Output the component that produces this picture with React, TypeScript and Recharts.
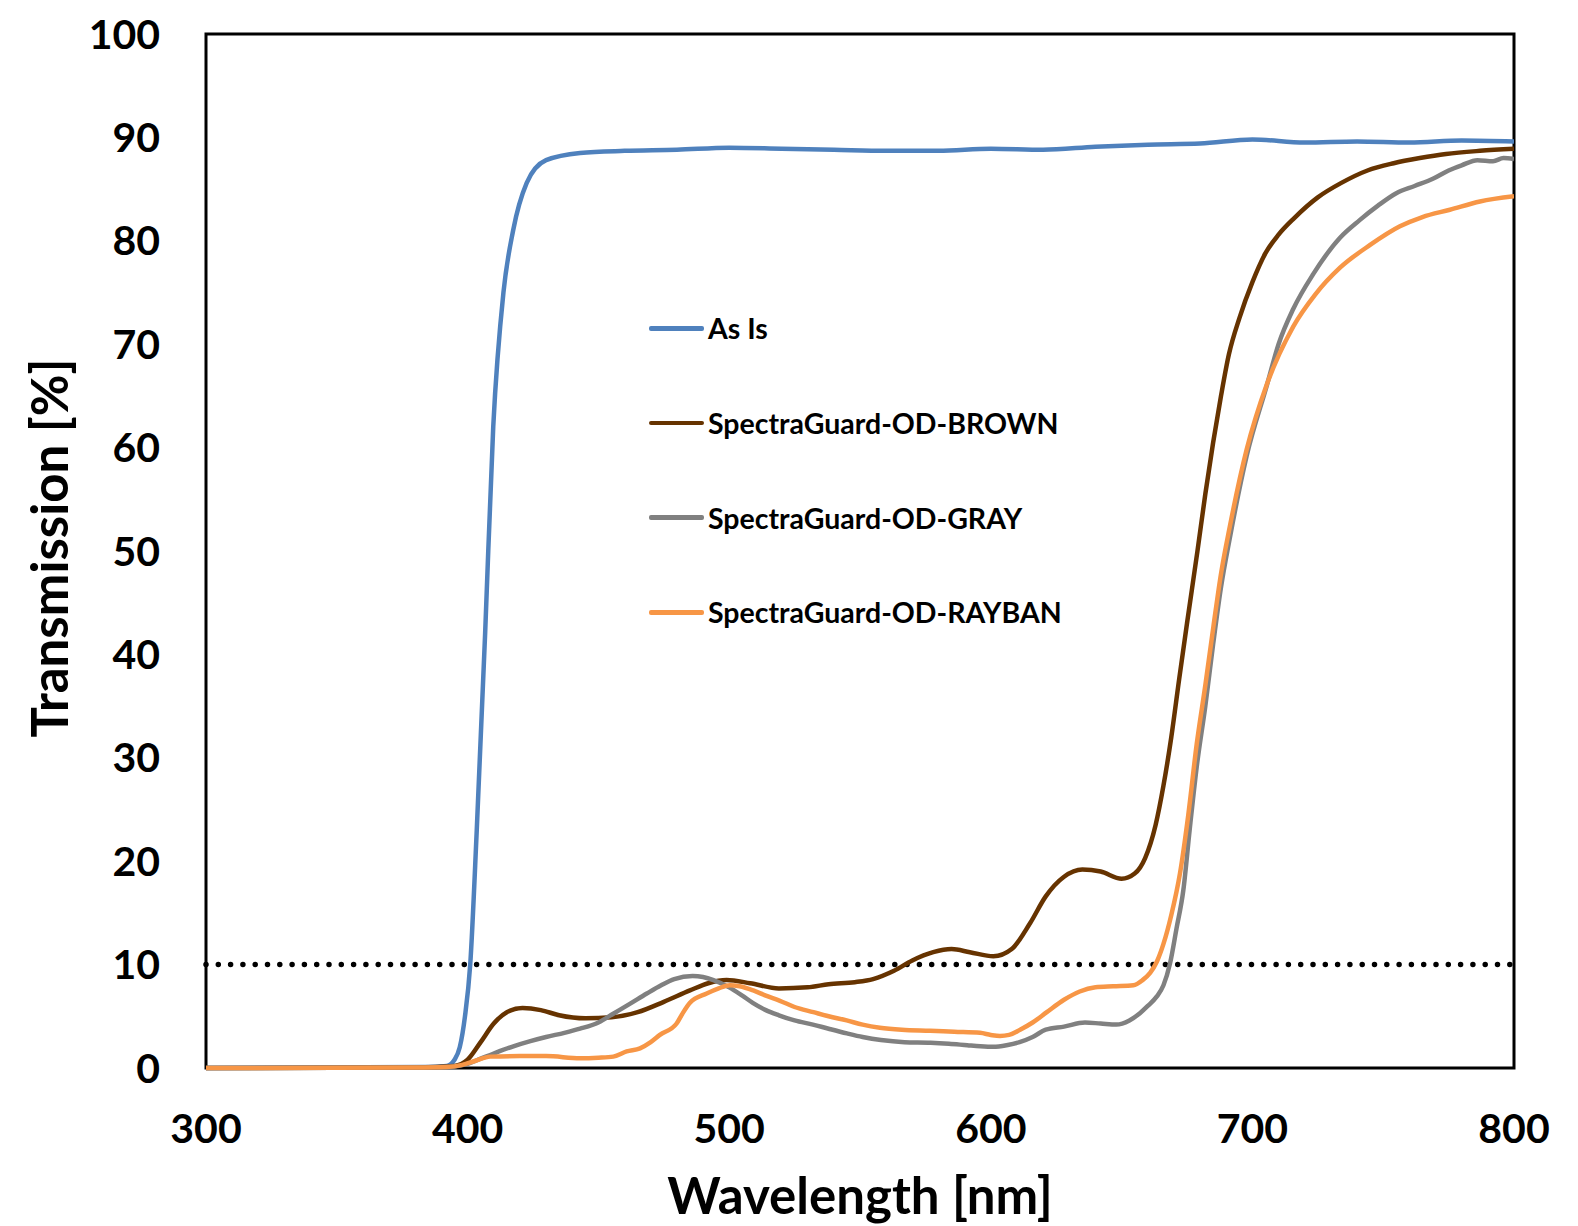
import {
  Legend,
  Line,
  LineChart,
  ReferenceArea,
  ReferenceLine,
  XAxis,
  YAxis,
} from "recharts";

const FONT = "Lato, 'Open Sans', sans-serif";

const xTicks = [300, 400, 500, 600, 700, 800];
const yTicks = [0, 10, 20, 30, 40, 50, 60, 70, 80, 90, 100];

// As Is (uncoated)
const asIsNm = [300, 350, 385, 392, 395, 397, 399, 401, 403.5, 406.7, 409.8, 413.7, 417.4, 422.6, 430, 443, 460, 480, 500, 520, 540, 560, 580, 600, 620, 640, 660, 680, 700, 720, 740, 760, 780, 800];
const asIsT = [0, 0.05, 0.1, 0.2, 0.8, 2, 5, 10, 23, 42, 62, 75, 81, 85.6, 87.8, 88.5, 88.7, 88.8, 89.0, 88.9, 88.8, 88.7, 88.7, 88.9, 88.8, 89.1, 89.3, 89.4, 89.8, 89.5, 89.6, 89.5, 89.7, 89.6];

// SpectraGuard-OD-BROWN
const brownNm = [300, 380, 395, 400, 405, 410, 415, 421, 428, 435, 445, 455, 465, 475, 485, 492, 499, 508, 519, 530, 538, 548, 555, 563, 570, 578, 585, 592, 601, 608, 615, 621, 628, 635, 642, 650, 655, 659, 663, 666, 669, 672, 675, 679, 682, 685, 688, 691, 695, 700, 705, 710, 716, 725, 734, 744, 754, 764, 774, 787, 800];
const brownT = [0, 0.05, 0.2, 0.8, 2.5, 4.3, 5.4, 5.8, 5.6, 5.1, 4.8, 4.9, 5.4, 6.4, 7.5, 8.2, 8.5, 8.2, 7.7, 7.8, 8.1, 8.3, 8.6, 9.4, 10.4, 11.2, 11.5, 11.2, 10.8, 11.5, 14, 16.6, 18.5, 19.2, 19.0, 18.3, 18.8, 20.3, 23.5, 27.3, 32, 37.6, 43, 50, 55.5, 60.5, 65, 69, 72.5, 76, 78.8, 80.6, 82.2, 84.2, 85.6, 86.8, 87.5, 88, 88.4, 88.7, 88.9];

// SpectraGuard-OD-GRAY
const grayNm = [300, 380, 395, 400, 405, 410, 417.5, 424, 430, 437, 443, 450, 456, 462, 468.5, 474, 479, 486, 490, 494, 500, 505, 509, 514, 519, 525, 532, 538, 545, 551, 558, 567, 577, 584, 591, 596, 601, 606, 611, 616, 621, 628, 636, 642, 648, 653, 657, 660, 663.4, 666, 668.5, 671, 673.6, 676, 678.7, 682, 685, 688, 691.4, 697.8, 705.5, 710, 715.6, 723.3, 733.5, 741, 748, 755, 762, 769, 775, 780, 786, 792, 796, 800];
const grayT = [0, 0.05, 0.15, 0.4, 0.9, 1.4, 2.1, 2.6, 3.0, 3.4, 3.8, 4.4, 5.3, 6.2, 7.2, 8.0, 8.6, 8.9, 8.8, 8.5, 7.8, 7.0, 6.3, 5.6, 5.1, 4.6, 4.2, 3.8, 3.35, 3.0, 2.7, 2.5, 2.45, 2.35, 2.2, 2.1, 2.05, 2.2, 2.5, 3.0, 3.7, 4.0, 4.4, 4.3, 4.2, 4.6, 5.3, 6.0, 6.9, 8.0, 10.1, 13.5, 17.2, 23, 29.1, 35, 41, 46.5, 51.3, 59.2, 66, 70, 73.4, 76.8, 80.3, 82, 83.4, 84.6, 85.3, 86, 86.8, 87.3, 87.8, 87.7, 88, 87.9];

// SpectraGuard-OD-RAYBAN
const raybanNm = [300, 380, 392, 398, 403, 408.6, 420, 430, 443, 450, 455.7, 460.8, 465.9, 470, 473.5, 479.9, 482, 485, 491.4, 496, 500.3, 504, 509.2, 514, 519.4, 525, 532.2, 538, 544.9, 551, 557.6, 566, 576.8, 586, 595.9, 600, 603.5, 607, 611.2, 616, 621.4, 628, 634, 640, 646.8, 654.5, 658, 660.9, 663.5, 666, 669, 672.3, 675.5, 678.7, 682, 685.1, 688, 691.4, 697.8, 705.5, 715.6, 724, 733.5, 745, 756.4, 765, 775.5, 787, 800];
const raybanT = [0, 0.05, 0.1, 0.3, 0.7, 1.1, 1.15, 1.15, 0.95, 1.0, 1.1, 1.6, 1.9, 2.5, 3.2, 4.3, 5.2, 6.3, 7.2, 7.7, 8.0, 7.9, 7.5, 7.0, 6.5, 5.9, 5.4, 5.0, 4.6, 4.2, 3.9, 3.7, 3.6, 3.5, 3.4, 3.2, 3.1, 3.2, 3.7, 4.4, 5.4, 6.6, 7.4, 7.8, 7.9, 8.0, 8.5, 9.2, 10.3, 12.0, 14.8, 18.8, 24.5, 31.3, 37, 42.7, 47.8, 52.4, 59.8, 66.1, 71.7, 74.8, 77.4, 79.6, 81.4, 82.3, 83.0, 83.8, 84.3];

const toPoints = (nm: number[], t: number[]) => nm.map((x, i) => ({ x, y: t[i] }));

const series = [
  { name: "As Is", color: "#4F81BD", data: toPoints(asIsNm, asIsT) },
  { name: "SpectraGuard-OD-BROWN", color: "#663300", data: toPoints(brownNm, brownT) },
  { name: "SpectraGuard-OD-GRAY", color: "#808080", data: toPoints(grayNm, grayT) },
  { name: "SpectraGuard-OD-RAYBAN", color: "#F79646", data: toPoints(raybanNm, raybanT) },
];

const renderLegend = (props: any) => (
  <div style={{ fontFamily: FONT, fontWeight: 700, fontSize: 28.5, color: "#000" }}>
    {(props.payload || []).map((entry: any) => (
      <div
        key={entry.value}
        style={{ height: 94.7, display: "flex", alignItems: "center" }}
      >
        <span
          style={{
            display: "inline-block",
            width: 55,
            height: 4.5,
            borderRadius: 2,
            background: entry.color,
            marginRight: 4,
          }}
        />
        <span>{entry.value}</span>
      </div>
    ))}
  </div>
);

const xTitle = (p: any) => {
  const vb = p.viewBox;
  return (
    <text
      x={vb.x + vb.width / 2}
      y={1206}
      textAnchor="middle"
      fontFamily={FONT}
      fontWeight={700}
      fontSize={51}
      fill="#000"
    >
      Wavelength [nm]
    </text>
  );
};

const yTitle = () => (
  <text
    x={60}
    y={540}
    transform="rotate(-90 60 540)"
    textAnchor="middle"
    fontFamily={FONT}
    fontWeight={700}
    fontSize={51}
    fill="#000"
  >
    Transmission [%]
  </text>
);

export default function App() {
  const tickStyle = { fontFamily: FONT, fontWeight: 700, fontSize: 41, fill: "#000" };
  return (
    <div style={{ width: 1570, height: 1218, background: "#fff" }}>
      <LineChart
        width={1570}
        height={1218}
        margin={{ top: 26, right: 64, left: 48, bottom: 48 }}
      >
        <XAxis
          type="number"
          dataKey="x"
          domain={[300, 800]}
          ticks={xTicks}
          allowDataOverflow
          axisLine={false}
          tickLine={false}
          tickSize={0}
          tickMargin={46}
          height={110}
          tick={tickStyle}
          label={xTitle}
        />
        <YAxis
          type="number"
          domain={[0, 100]}
          ticks={yTicks}
          axisLine={false}
          tickLine={false}
          tickSize={0}
          tickMargin={46}
          width={150}
          tick={tickStyle}
          label={yTitle}
        />
        <ReferenceLine
          y={10}
          stroke="#000"
          strokeWidth={5.5}
          strokeDasharray="0 12.3"
          strokeLinecap="round"
        />
        {series.map((s) => (
          <Line
            key={s.name}
            data={s.data}
            dataKey="y"
            name={s.name}
            type="monotone"
            stroke={s.color}
            strokeWidth={4.5}
            dot={false}
            activeDot={false}
            isAnimationActive={false}
          />
        ))}
        <ReferenceArea
          x1={300}
          x2={800}
          y1={0}
          y2={100}
          fill="none"
          fillOpacity={0}
          stroke="#000"
          strokeWidth={3}
          ifOverflow="visible"
        />
        <Legend
          layout="vertical"
          align="center"
          verticalAlign="middle"
          content={renderLegend}
          wrapperStyle={{ left: 641, top: 273, width: 520, height: 380 }}
        />
      </LineChart>
    </div>
  );
}
